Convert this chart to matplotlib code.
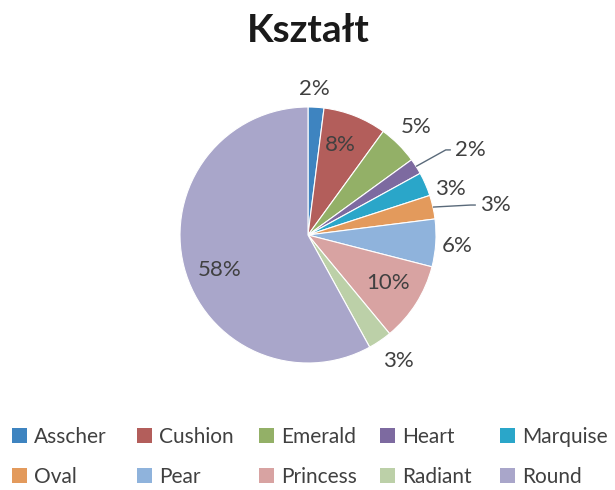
import numpy as np
import matplotlib
matplotlib.use("Agg")
import matplotlib.pyplot as plt
from matplotlib.patches import Patch

plt.rcParams['font.family'] = ['Lato', 'DejaVu Sans']

title = "Kształt"
categories = ['Asscher', 'Cushion', 'Emerald', 'Heart', 'Marquise',
              'Oval', 'Pear', 'Princess', 'Radiant', 'Round']
values = [2, 8, 5, 2, 3, 3, 6, 10, 3, 58]
pct_labels = ['2%', '8%', '5%', '2%', '3%', '3%', '6%', '10%', '3%', '58%']

colors = ['#3E84C0', '#B35E5B', '#93B067', '#7D6AA0', '#2AA6C9',
          '#E39A5C', '#8FB3DC', '#D8A3A2', '#BCD0A8', '#A9A6CA']

# label placement (styling): radial factor, angular shift (deg), leader line
label_r = [1.14, 0.75, 1.19, 1.43, 1.17, 1.48, 1.17, 0.73, 1.21, 0.74]
label_dang = [1, 2, 0, -4.7, -5.6, -3.5, -0.6, 1.4, 1.3, 7]
leader = [False, False, False, True, False, True, False, False, False, False]

W, H = 615, 490
fig = plt.figure(figsize=(W / 100, H / 100), dpi=100)
fig.patch.set_facecolor('white')

cx, cy, R = 308, 235, 128
ax = fig.add_axes([(cx - R) / W, (H - cy - R) / H, 2 * R / W, 2 * R / H])
ax.axis('off')

wedges, _ = ax.pie(values, colors=colors, startangle=90, counterclock=False,
                   radius=1.0, wedgeprops=dict(edgecolor='white', linewidth=0.8))
ax.set_xlim(-1, 1)
ax.set_ylim(-1, 1)
ax.set_aspect('equal')

txt_color = '#404040'
for w, lab, r, da, ld in zip(wedges, pct_labels, label_r, label_dang, leader):
    mid = np.deg2rad((w.theta1 + w.theta2) / 2)
    ang = mid + np.deg2rad(da)
    x, y = r * np.cos(ang), r * np.sin(ang)
    ax.text(x, y, lab, ha='center', va='center', fontsize=16, color=txt_color,
            clip_on=False)
    if ld:
        x0, y0 = 1.0 * np.cos(mid), 1.0 * np.sin(mid)
        x1 = x - 0.15
        xm = x1 - 0.04
        ax.plot([x0, xm, x1], [y0, y, y], color='#5a6a7a', lw=1.0,
                clip_on=False, solid_capstyle='butt')

fig.text(cx / W, 1 - 31 / H, title, ha='center', va='center',
         fontsize=28, fontweight='bold', color='#1a1a1a')

# legend: 5 columns, 2 rows
handles = [Patch(facecolor=c, edgecolor='none') for c in colors]
col_x = [12, 137, 259, 380, 500]
for j in range(5):
    idx = [j, j + 5]
    fig.legend([handles[i] for i in idx], [categories[i] for i in idx],
               loc='upper left', bbox_to_anchor=(col_x[j] / W, 1 - 427 / H),
               frameon=False, fontsize=15, handlelength=0.7, handleheight=0.7,
               handletextpad=0.35, labelspacing=0.95, borderpad=0,
               borderaxespad=0, labelcolor=txt_color)

fig.savefig('out.png', dpi=100, facecolor='white')
